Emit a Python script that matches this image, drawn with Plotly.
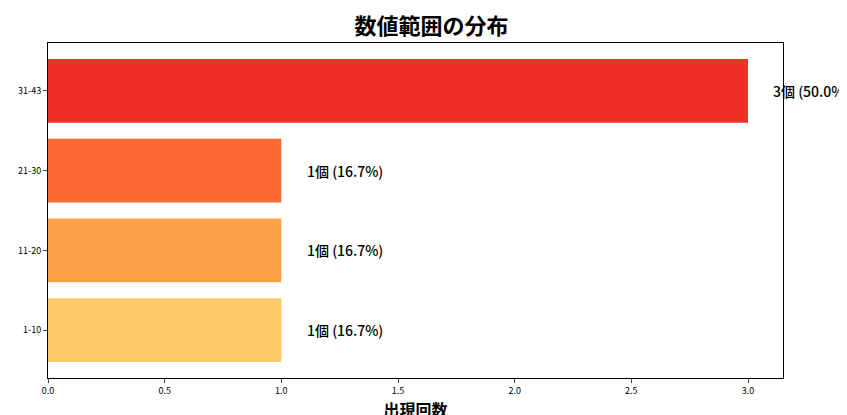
import plotly.graph_objects as go

categories = ["1-10", "11-20", "21-30", "31-43"]
counts = [1, 1, 1, 3]
labels = ["1個 (16.7%)", "1個 (16.7%)", "1個 (16.7%)", "3個 (50.0%)"]
colors = ["#FDCA66", "#FCA046", "#FC6A32", "#EE3024"]

font = "Noto Sans CJK JP"
fig = go.Figure(go.Bar(y=categories, x=counts, orientation="h", marker_color=colors,
                       marker_line_width=0, width=0.8))
for c, v, t in zip(categories, counts, labels):
    fig.add_annotation(x=v + 0.1, y=c, text=t, showarrow=False, xanchor="left",
                       font=dict(size=14, color="black", family="Noto Sans CJK JP Medium, " + font))
fig.update_layout(
    width=847, height=415, plot_bgcolor="white", paper_bgcolor="white",
    margin=dict(l=40, r=72, t=35, b=45, autoexpand=False),
    font=dict(family=font, color="black"),
    title=dict(text="<b>数値範囲の分布</b>", x=0.5, xanchor="center", y=0.955,
               yanchor="middle", font=dict(size=22)),
    xaxis=dict(range=[0, 3.15], dtick=0.5, tickformat=".1f", showgrid=False,
               automargin=False,
               showline=True, linecolor="black", mirror=True, ticks="outside",
               ticklen=4, tickfont=dict(size=9),
               title=dict(text="<b>出現回数</b>", font=dict(size=16), standoff=6)),
    yaxis=dict(showgrid=False, showline=True, linecolor="black", mirror=True,
               automargin=False,
               ticks="outside", ticklen=4, tickfont=dict(size=9),
               range=[-0.6, 3.6]),
    showlegend=False,
)
fig.write_html("out.html")
